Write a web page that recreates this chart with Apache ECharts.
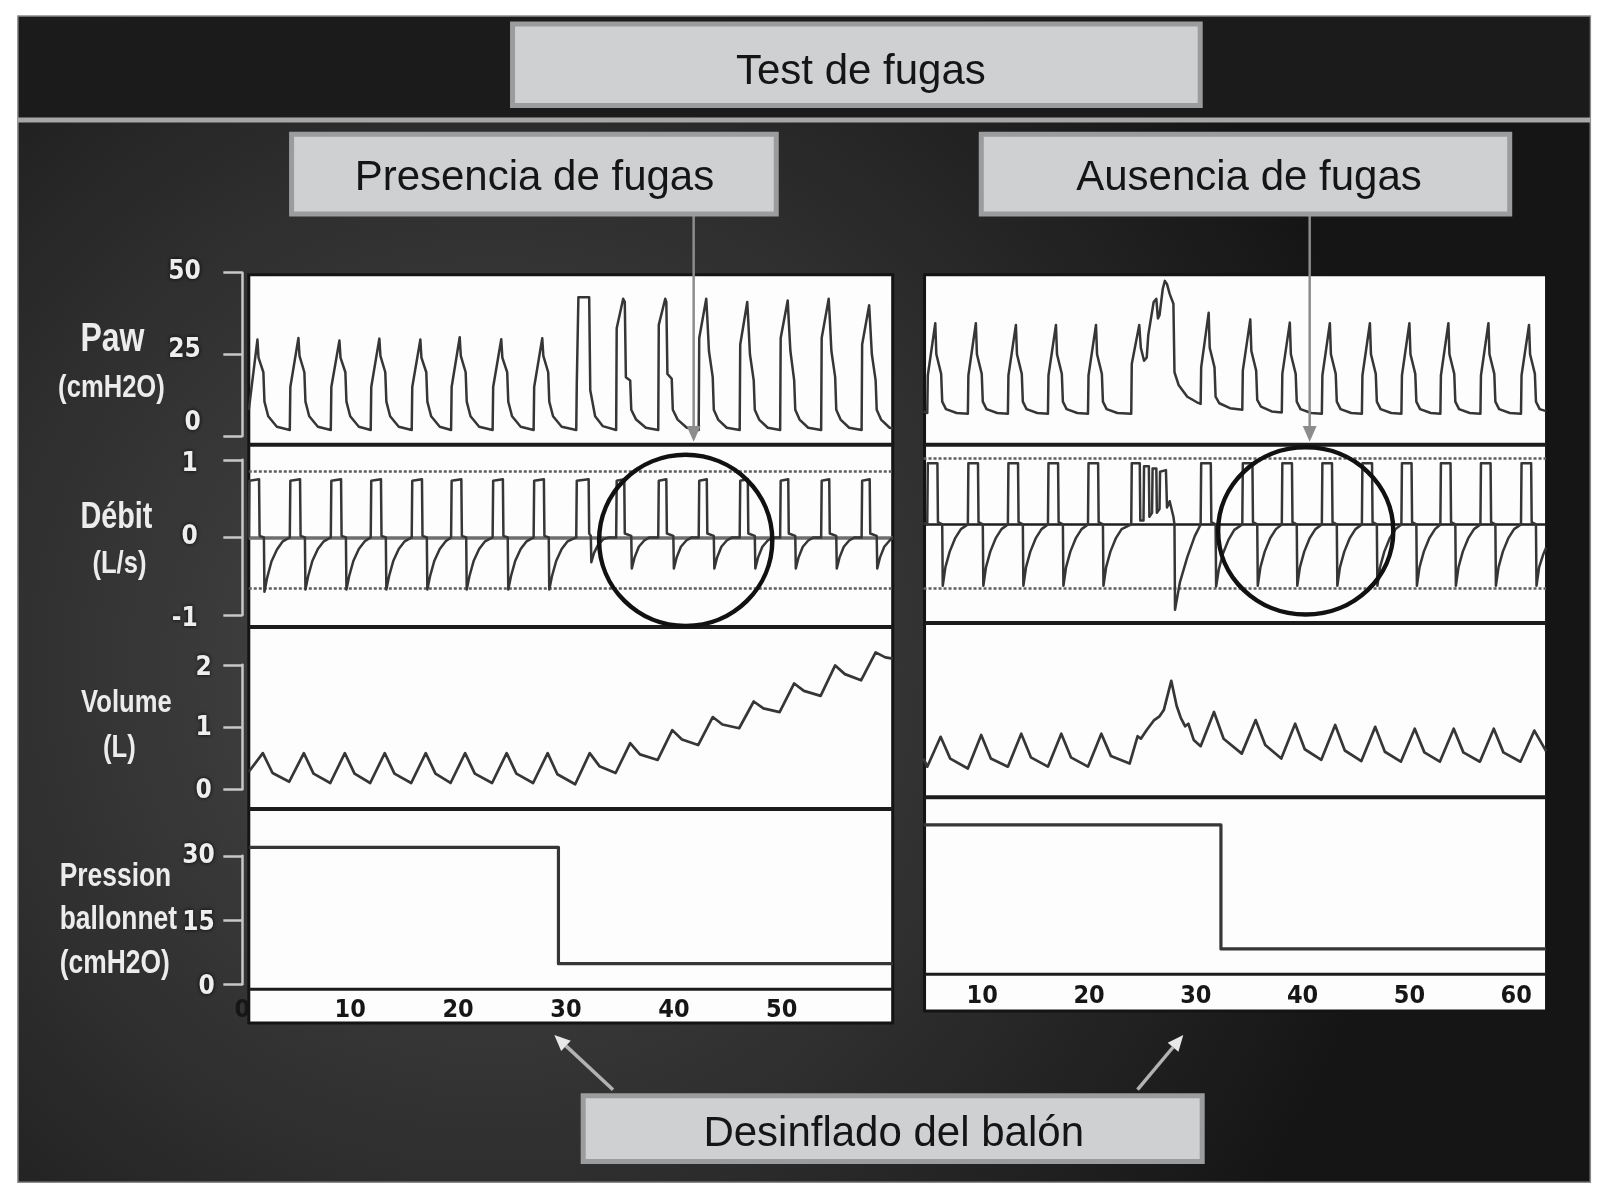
<!DOCTYPE html>
<html><head><meta charset="utf-8">
<script src="https://cdn.jsdelivr.net/npm/echarts@6/dist/echarts.min.js"></script>
<style>html,body{margin:0;padding:0;background:#ffffff}#c{width:1616px;height:1204px}</style>
</head><body><div id="c"></div>
<script>
// ---------- text ----------
const titleMain = 'Test de fugas';
const titleLeft = 'Presencia de fugas';
const titleRight = 'Ausencia de fugas';
const titleBottom = 'Desinflado del balón';

// ---------- axis ticks ----------
const pawTicks = [0, 25, 50];
const flowTicks = [-1, 0, 1];
const volTicks = [0, 1, 2];
const cuffTicks = [0, 15, 30];
const timeTicks = [0, 10, 20, 30, 40, 50, 60];
const leftSpan = [0.6, 60.3];
const rightSpan = [4.5, 62.8];
const leftFlowLimits = [0.85, -0.66];
const rightFlowLimits = [0.855, -0.82];

// ---------- LEFT (presencia de fugas) ----------
const leftPaw = [
[0.6,8],[1.4,29.5],[1.5,24],[1.95,19.5],[2.05,10.5],[2.4,6],[3.2,2.8],
[4.4,1.8],[4.45,15],[5.2,30],[5.3,24.5],[5.75,19.5],[5.85,10.5],[6.2,6],[7.0,2.8],
[8.2,1.8],[8.25,15],[9.0,29.2],[9.1,24],[9.55,19.5],[9.65,10.5],[10.0,6],[10.8,2.8],
[11.9,1.8],[11.95,15],[12.7,29.8],[12.8,24.5],[13.25,19.5],[13.35,10.5],[13.7,6],[14.5,2.8],
[15.7,1.8],[15.75,15],[16.5,29.5],[16.6,24],[17.05,19.5],[17.15,10.5],[17.5,6],[18.3,2.8],
[19.35,1.8],[19.4,15],[20.15,30.2],[20.25,24.5],[20.7,19.5],[20.8,10.5],[21.15,6],[21.95,2.8],
[23.2,1.8],[23.25,15],[24.0,29.6],[24.1,24],[24.55,19.5],[24.65,10.5],[25.0,6],[25.8,2.8],
[27.0,1.8],[27.05,15],[27.8,29.9],[27.9,24.5],[28.35,19.5],[28.45,10.5],[28.8,6],[29.6,2.8],
[30.95,1.8],[31.0,16],[31.15,42.5],[32.15,42.5],[32.25,14],[32.7,6],[33.4,3],
[34.65,1.8],[34.7,33],[35.3,42],[35.45,41],[35.55,18],[35.95,17],[36.05,8],[36.5,5],[37.4,2.5],
[38.55,1.8],[38.6,34],[39.2,42],[39.3,41],[39.4,19],[39.8,17.5],[39.9,8],[40.35,5],[41.2,2.5],
[42.3,1.8],[42.35,30],[43.0,42],[43.1,36],[43.25,26],[43.6,18],[43.7,8],[44.1,5],[44.9,2.5],
[46.1,1.8],[46.15,28],[46.8,41],[46.9,35],[47.05,25],[47.4,17],[47.5,8],[47.9,5],[48.7,2.5],
[49.85,1.8],[49.9,30],[50.55,41.5],[50.65,35],[50.8,26],[51.15,17],[51.25,8],[51.65,5],[52.45,2.5],
[53.65,1.8],[53.7,30],[54.35,42],[54.45,36],[54.6,26],[54.95,18],[55.05,8],[55.45,5],[56.25,2.5],
[57.4,1.8],[57.45,28],[58.1,40],[58.2,34],[58.35,25],[58.7,17],[58.8,8],[59.2,5],[60.0,2.5],[60.3,2.3]
];
const leftFlow = [
[0.6,0],[0.65,0.73],[1.55,0.75],[1.6,0.02],[2.0,0],[2.05,-0.7],[2.3,-0.52],[2.7,-0.31],[3.2,-0.16],[3.75,-0.05],
[4.4,0],[4.45,0.73],[5.35,0.75],[5.4,0.02],[5.8,0],[5.85,-0.67],[6.1,-0.5],[6.5,-0.3],[7.0,-0.15],[7.55,-0.05],
[8.2,0],[8.25,0.73],[9.15,0.75],[9.2,0.02],[9.6,0],[9.65,-0.67],[9.9,-0.5],[10.3,-0.3],[10.8,-0.15],[11.35,-0.05],
[11.9,0],[11.95,0.73],[12.85,0.75],[12.9,0.02],[13.3,0],[13.35,-0.67],[13.6,-0.5],[14.0,-0.3],[14.5,-0.15],[15.05,-0.05],
[15.7,0],[15.75,0.73],[16.65,0.75],[16.7,0.02],[17.1,0],[17.15,-0.67],[17.4,-0.5],[17.8,-0.3],[18.3,-0.15],[18.85,-0.05],
[19.35,0],[19.4,0.73],[20.3,0.75],[20.35,0.02],[20.75,0],[20.8,-0.67],[21.05,-0.5],[21.45,-0.3],[21.95,-0.15],[22.5,-0.05],
[23.2,0],[23.25,0.73],[24.15,0.75],[24.2,0.02],[24.6,0],[24.65,-0.67],[24.9,-0.5],[25.3,-0.3],[25.8,-0.15],[26.35,-0.05],
[27.0,0],[27.05,0.73],[27.95,0.75],[28.0,0.02],[28.4,0],[28.45,-0.67],[28.7,-0.5],[29.1,-0.3],[29.6,-0.15],[30.15,-0.05],
[30.95,0],[31.0,0.73],[32.1,0.75],[32.15,0.05],[32.3,0.02],[32.35,-0.32],[32.6,-0.2],[33.0,-0.09],[33.5,-0.02],[34.0,0],
[34.65,0],[34.7,0.73],[35.4,0.75],[35.45,0.05],[36.05,0.02],[36.1,-0.4],[36.35,-0.26],[36.75,-0.12],[37.25,-0.04],[37.75,0],
[38.55,0],[38.6,0.73],[39.3,0.75],[39.35,0.05],[39.95,0.02],[40.0,-0.4],[40.25,-0.26],[40.65,-0.12],[41.15,-0.04],[41.65,0],
[42.3,0],[42.35,0.73],[43.05,0.75],[43.1,0.05],[43.7,0.02],[43.75,-0.4],[44.0,-0.26],[44.4,-0.12],[44.9,-0.04],[45.4,0],
[46.1,0],[46.15,0.73],[46.85,0.75],[46.9,0.05],[47.5,0.02],[47.55,-0.4],[47.8,-0.26],[48.2,-0.12],[48.7,-0.04],[49.2,0],
[49.85,0],[49.9,0.73],[50.6,0.75],[50.65,0.05],[51.25,0.02],[51.3,-0.4],[51.55,-0.26],[51.95,-0.12],[52.45,-0.04],[52.95,0],
[53.65,0],[53.7,0.73],[54.4,0.75],[54.45,0.05],[55.05,0.02],[55.1,-0.4],[55.35,-0.26],[55.75,-0.12],[56.25,-0.04],[56.75,0],
[57.4,0],[57.45,0.73],[58.15,0.75],[58.2,0.05],[58.8,0.02],[58.85,-0.4],[59.1,-0.26],[59.5,-0.12],[60.0,-0.04],[60.3,0]
];
const leftVolume = [
[0.6,0.28],[1.9,0.58],[2.8,0.26],[4.35,0.12],
[5.7,0.58],[6.6,0.25],[8.15,0.1],
[9.5,0.58],[10.4,0.25],[11.85,0.1],
[13.2,0.58],[14.1,0.25],[15.65,0.1],
[17.0,0.58],[17.9,0.25],[19.3,0.1],
[20.65,0.58],[21.55,0.25],[23.15,0.1],
[24.5,0.58],[25.4,0.25],[26.95,0.1],
[28.3,0.58],[29.2,0.24],[30.85,0.08],
[32.2,0.58],[33.1,0.37],[34.6,0.26],
[35.95,0.74],[36.85,0.56],[38.5,0.47],
[39.85,0.95],[40.75,0.8],[42.25,0.71],
[43.6,1.16],[44.5,1.04],[46.05,0.98],
[47.4,1.41],[48.3,1.3],[49.8,1.24],
[51.15,1.7],[52.05,1.58],[53.6,1.5],
[54.95,1.99],[55.85,1.85],[57.35,1.75],
[58.7,2.2],[59.6,2.12],[60.3,2.1]
];
const leftCuff = [[0.6,32],[29.3,32],[29.3,4.8],[60.3,4.8]];

// ---------- RIGHT (ausencia de fugas) ----------
const rightPaw = [
[4.5,7.5],[4.85,7],[4.9,18.5],[5.6,34.5],[5.7,25],[6.15,19],[6.25,10.5],[6.6,8.2],[7.6,7],
[8.65,6.8],[8.7,18.5],[9.4,34.5],[9.5,25],[9.95,19],[10.05,10.5],[10.4,8.2],[11.4,7],
[12.4,6.8],[12.45,18.5],[13.15,34],[13.25,25],[13.7,19],[13.8,10.5],[14.15,8.2],[15.15,7],
[16.15,6.8],[16.2,18.5],[16.9,34],[17.0,25],[17.45,19],[17.55,10.5],[17.9,8.2],[18.9,7],
[19.9,6.8],[19.95,18.5],[20.65,34],[20.75,25],[21.2,19],[21.3,10.5],[21.65,8.2],[22.65,7],
[23.95,6.8],[24.0,22],[24.7,34],[24.85,27],[25.15,23],[25.4,24],[25.55,31],[26.05,41],[26.3,42],[26.45,36],[26.6,37],[26.9,45],[27.1,47.5],[27.3,46.5],[27.55,43.5],[27.9,40.5],[28.0,19.5],[28.4,15.5],[29.2,12],[30.1,10.3],[30.45,9.8],
[30.5,21],[31.2,37.7],[31.3,27],[31.75,21],[31.85,12],[32.2,10],[33.2,8.5],
[34.35,8],[34.4,20],[35.1,35.7],[35.2,26],[35.65,20],[35.75,11],[36.1,9],[37.1,7.5],
[38.05,7.2],[38.1,19],[38.8,34.7],[38.9,25],[39.35,19],[39.45,10.5],[39.8,8.2],[40.8,7],
[41.8,6.8],[41.85,18.5],[42.55,34.5],[42.65,25],[43.1,19],[43.2,10.5],[43.55,8.2],[44.55,7],
[45.55,6.8],[45.6,18.5],[46.3,34.5],[46.4,25],[46.85,19],[46.95,10.5],[47.3,8.2],[48.3,7],
[49.25,6.8],[49.3,18.5],[50.0,34.5],[50.1,25],[50.55,19],[50.65,10.5],[51.0,8.2],[52.0,7],
[52.9,6.8],[52.95,18.5],[53.65,34.5],[53.75,25],[54.2,19],[54.3,10.5],[54.65,8.2],[55.65,7],
[56.65,6.8],[56.7,18.5],[57.4,34.5],[57.5,25],[57.95,19],[58.05,10.5],[58.4,8.2],[59.4,7],
[60.45,6.8],[60.5,18.5],[61.2,34],[61.3,25],[61.75,19],[61.85,10.5],[62.2,8.2],[62.8,7.6]
];
const rightFlow = [
[4.5,0.02],[4.85,0],[4.9,0.79],[5.8,0.79],[5.85,0.03],[6.25,0],[6.3,-0.79],[6.55,-0.55],[6.95,-0.35],[7.45,-0.18],[8.0,-0.06],
[8.65,0],[8.7,0.79],[9.6,0.79],[9.65,0.03],[10.05,0],[10.1,-0.79],[10.35,-0.55],[10.75,-0.35],[11.25,-0.18],[11.8,-0.06],
[12.4,0],[12.45,0.79],[13.35,0.79],[13.4,0.03],[13.8,0],[13.85,-0.79],[14.1,-0.55],[14.5,-0.35],[15.0,-0.18],[15.55,-0.06],
[16.15,0],[16.2,0.79],[17.1,0.79],[17.15,0.03],[17.55,0],[17.6,-0.79],[17.85,-0.55],[18.25,-0.35],[18.75,-0.18],[19.3,-0.06],
[19.9,0],[19.95,0.79],[20.85,0.79],[20.9,0.03],[21.3,0],[21.35,-0.79],[21.6,-0.55],[22.0,-0.35],[22.5,-0.18],[23.05,-0.06],
[23.95,0],[24.0,0.79],[24.75,0.79],[24.8,0.05],[25.1,0.05],[25.15,0.75],[25.6,0.75],[25.65,0.1],[25.9,0.15],[25.95,0.72],[26.3,0.72],[26.35,0.15],[26.6,0.2],[26.65,0.68],[27.2,0.7],[27.3,0.22],[27.55,0.3],[27.9,0.1],[28.0,0],[28.05,-1.1],[28.5,-0.75],[29.2,-0.42],[29.9,-0.15],[30.45,0],
[30.5,0.79],[31.4,0.79],[31.45,0.03],[31.85,0],[31.9,-0.8],[32.15,-0.58],[32.55,-0.37],[33.05,-0.2],[33.6,-0.07],
[34.35,0],[34.4,0.79],[35.3,0.79],[35.35,0.03],[35.75,0],[35.8,-0.79],[36.05,-0.55],[36.45,-0.35],[36.95,-0.18],[37.5,-0.06],
[38.05,0],[38.1,0.79],[39.0,0.79],[39.05,0.03],[39.45,0],[39.5,-0.79],[39.75,-0.55],[40.15,-0.35],[40.65,-0.18],[41.2,-0.06],
[41.8,0],[41.85,0.79],[42.75,0.79],[42.8,0.03],[43.2,0],[43.25,-0.79],[43.5,-0.55],[43.9,-0.35],[44.4,-0.18],[44.95,-0.06],
[45.55,0],[45.6,0.79],[46.5,0.79],[46.55,0.03],[46.95,0],[47.0,-0.79],[47.25,-0.55],[47.65,-0.35],[48.15,-0.18],[48.7,-0.06],
[49.25,0],[49.3,0.79],[50.2,0.79],[50.25,0.03],[50.65,0],[50.7,-0.79],[50.95,-0.55],[51.35,-0.35],[51.85,-0.18],[52.4,-0.06],
[52.9,0],[52.95,0.79],[53.85,0.79],[53.9,0.03],[54.3,0],[54.35,-0.79],[54.6,-0.55],[55.0,-0.35],[55.5,-0.18],[56.05,-0.06],
[56.65,0],[56.7,0.79],[57.6,0.79],[57.65,0.03],[58.05,0],[58.1,-0.79],[58.35,-0.55],[58.75,-0.35],[59.25,-0.18],[59.8,-0.06],
[60.45,0],[60.5,0.79],[61.4,0.79],[61.45,0.03],[61.85,0],[61.9,-0.79],[62.15,-0.55],[62.55,-0.38],[62.8,-0.3]
];
const rightVolume = [
[4.5,0.3],[4.85,0.17],[6.1,0.65],[7.0,0.3],
[8.65,0.14],[9.9,0.68],[10.8,0.3],
[12.4,0.17],[13.65,0.7],[14.55,0.32],
[16.15,0.17],[17.4,0.7],[18.3,0.32],
[19.9,0.17],[21.15,0.7],[22.05,0.34],
[23.8,0.22],[24.55,0.66],[24.85,0.62],[25.4,0.76],[26.1,0.92],[26.6,0.98],[27.0,1.08],[27.7,1.55],[28.2,1.15],[28.6,0.95],[29.0,0.82],[29.3,0.86],[29.8,0.6],[30.45,0.5],
[31.7,1.05],[32.6,0.62],[34.3,0.38],
[35.6,0.92],[36.5,0.52],[38.0,0.3],
[39.3,0.86],[40.2,0.45],[41.75,0.28],
[43.05,0.84],[43.95,0.43],[45.5,0.26],
[46.8,0.81],[47.7,0.41],[49.2,0.25],
[50.5,0.78],[51.4,0.4],[52.85,0.25],
[54.15,0.78],[55.05,0.4],[56.6,0.25],
[57.9,0.78],[58.8,0.4],[60.4,0.25],
[61.7,0.75],[62.8,0.42]
];
const rightCuff = [[4.5,34],[32.35,34],[32.35,5],[62.8,5]];

// ---------- row labels ----------
const rowLabels = [['Paw','(cmH2O)'], ['Débit','(L/s)'], ['Volume','(L)'], ['Pression','ballonnet','(cmH2O)']];

// ================= chart =================
const NARROW = '"Liberation Sans Narrow","Arial Narrow","DejaVu Sans Condensed",Roboto,sans-serif';
const SANS = '"Liberation Sans",Arial,Helvetica,sans-serif';
const K = 0.9952; // global layout scale
const chart = echarts.init(document.getElementById('c'), null, {renderer: 'canvas'});

// layout (pixels, before K)
const LX = {left: 243.5, width: 653.7};
const RX = {left: 879.7, width: 676};
const leftRows = [[274,164],[462,156],[668,125],[860,129]];
const rightRows = [[274,164],[425.6,202.8],[656,125],[846,129]];
const tickSets = [pawTicks, flowTicks, volTicks, cuffTicks];
const labelMargins = [38, 41, 27, 24];
const labelShift = [{0: -13, 25: -4}, {1: 4, '-1': 4}, {2: 3, 1: 1, 0: 2}, {15: 3, 0: 3}];

const grids = [];
leftRows.forEach(r => grids.push({left: LX.left * K, width: LX.width * K, top: r[0] * K, height: r[1] * K}));
rightRows.forEach(r => grids.push({left: RX.left * K, width: RX.width * K, top: r[0] * K, height: r[1] * K}));

const xAxes = [];
for (let i = 0; i < 8; i++) {
  const right = i >= 4;
  const bottom = (i === 3 || i === 7);
  xAxes.push({
    gridIndex: i, type: 'value', min: timeTicks[0],
    max: right ? 63 : leftSpan[1],
    interval: timeTicks[1] - timeTicks[0],
    show: bottom,
    axisLine: {show: false}, axisTick: {show: false}, splitLine: {show: false},
    axisLabel: {
      show: bottom, margin: 14, color: '#161616',
      fontFamily: NARROW, fontWeight: 'bold', fontSize: 25,
      formatter: v => {
        if (timeTicks.indexOf(v) < 0) return '';
        if (right) return (v >= 10 && v <= 60) ? String(v) : '';
        return v <= 50 ? String(v) : '';
      }
    }
  });
}
const tickFont = {color: '#eeeeee', fontFamily: NARROW, fontWeight: 'bold', fontSize: 26,
  textShadowColor: 'rgba(0,0,0,0.9)', textShadowBlur: 4};
const yAxes = [];
for (let i = 0; i < 8; i++) {
  const k = i % 4;
  const t = tickSets[k];
  const right = i >= 4;
  let min = t[0], max = t[t.length - 1];
  if (right && k === 1) { min = -1.3; max = 1.3; }
  const shifts = labelShift[k];
  const rich = {};
  Object.keys(shifts).forEach(key => {
    const s = shifts[key];
    rich[(s < 0 ? 'm' : 'p') + Math.abs(s)] = Object.assign(
      {padding: s < 0 ? [0, 0, -2 * s, 0] : [2 * s, 0, 0, 0]}, tickFont);
  });
  const label = Object.assign({margin: labelMargins[k], rich: rich,
    formatter: v => {
      const s = shifts[String(v)];
      return s ? '{' + (s < 0 ? 'm' : 'p') + Math.abs(s) + '|' + v + '}' : String(v);
    }}, tickFont);
  yAxes.push({
    gridIndex: i, type: 'value', min: min, max: max, interval: t[1] - t[0],
    show: !right, offset: 3.5,
    splitLine: {show: false},
    axisLine: {show: true, lineStyle: {color: '#c8c8c8', width: 2.5}},
    axisTick: {show: true, length: 19, lineStyle: {color: '#c8c8c8', width: 2.5}},
    axisLabel: label
  });
}

function wave(data, idx, width) {
  return {
    type: 'line', data: data, xAxisIndex: idx, yAxisIndex: idx,
    showSymbol: false, symbol: 'none', clip: false, animation: false, silent: true, z: 5,
    lineStyle: {color: '#363636', width: width || 2.5, join: 'round'}
  };
}
function flowMarks(span, limits, zeroColor, zeroWidth) {
  return {
    silent: true, symbol: ['none', 'none'], label: {show: false}, animation: false,
    data: [
      [{coord: [span[0], 0], lineStyle: {color: zeroColor, width: zeroWidth, type: 'solid'}}, {coord: [span[1], 0]}],
      [{coord: [span[0], limits[0]], lineStyle: {color: '#5e5e5e', width: 2.5, type: [3, 2]}}, {coord: [span[1], limits[0]]}],
      [{coord: [span[0], limits[1]], lineStyle: {color: '#5e5e5e', width: 2.5, type: [3, 2]}}, {coord: [span[1], limits[1]]}]
    ]
  };
}
const sLeftFlow = wave(leftFlow, 1); sLeftFlow.markLine = flowMarks(leftSpan, leftFlowLimits, '#6e6e6e', 3.5);
const sRightFlow = wave(rightFlow, 5); sRightFlow.markLine = flowMarks(rightSpan, rightFlowLimits, '#1e1e1e', 2.5);
const series = [
  wave(leftPaw, 0), sLeftFlow, wave(leftVolume, 2, 2.7), wave(leftCuff, 3, 3.2),
  wave(rightPaw, 4), sRightFlow, wave(rightVolume, 6, 2.7), wave(rightCuff, 7, 3.2)
];

// ---------- decorations ----------
const G = [];
G.push({type: 'rect', z: -100, shape: {x: 18, y: 16, width: 1580, height: 1172},
  style: {fill: new echarts.graphic.RadialGradient(0.3, 0.56, 0.8, [
    {offset: 0, color: '#494949'}, {offset: 0.55, color: '#2e2e2e'}, {offset: 1, color: '#151515'}]),
    stroke: '#8a8a8a', lineWidth: 1.5}});
G.push({type: 'rect', z: -99, shape: {x: 19, y: 17, width: 1578, height: 101}, style: {fill: '#1b1b1b'}});
G.push({type: 'rect', z: -98, shape: {x: 18, y: 118, width: 1580, height: 5}, style: {fill: '#a7a7a7'}});
// white panels
G.push({type: 'rect', z: -90, shape: {x: 250, y: 276, width: 647, height: 752}, style: {fill: '#fdfdfd', stroke: '#141414', lineWidth: 3}});
G.push({type: 'rect', z: -90, shape: {x: 929, y: 276, width: 625, height: 740}, style: {fill: '#fdfdfd', stroke: '#141414', lineWidth: 3}});
[[447,4],[630,4],[813,4],[994,3]].forEach(b => G.push({type: 'line', z: -80,
  shape: {x1: 250, y1: b[0], x2: 897, y2: b[0]}, style: {stroke: '#1c1c1c', lineWidth: b[1]}}));
[[447,4],[626,4],[801,4],[979,3]].forEach(b => G.push({type: 'line', z: -80,
  shape: {x1: 929, y1: b[0], x2: 1554, y2: b[0]}, style: {stroke: '#1c1c1c', lineWidth: b[1]}}));
// row labels (narrowed bold sans)
const lab = (text, x, y, size, align) => G.push({type: 'text', z: 10, x: x, y: y, scaleX: 0.8,
  style: {text: text, x: 0, y: 0, fill: '#ececec', align: align || 'center', verticalAlign: 'middle',
    font: 'bold ' + size + 'px ' + SANS, shadowColor: 'rgba(0,0,0,0.9)', shadowBlur: 4}});
lab(rowLabels[0][0], 113, 342, 40); lab(rowLabels[0][1], 112, 390, 32);
lab(rowLabels[1][0], 117, 521, 36); lab(rowLabels[1][1], 120, 567, 32);
lab(rowLabels[2][0], 127, 707, 32); lab(rowLabels[2][1], 120, 752, 32);
lab(rowLabels[3][0], 60, 881, 33, 'left'); lab(rowLabels[3][1], 60, 924, 33, 'left'); lab(rowLabels[3][2], 60, 969, 33, 'left');
// circles
G.push({type: 'ellipse', z: 50, shape: {cx: 689, cy: 543, rx: 87, ry: 86}, style: {fill: 'none', stroke: '#111', lineWidth: 4.5}});
G.push({type: 'ellipse', z: 50, shape: {cx: 1312, cy: 533.5, rx: 88, ry: 84}, style: {fill: 'none', stroke: '#111', lineWidth: 4.5}});
// vertical arrows
[697, 1316].forEach(x => {
  G.push({type: 'line', z: 50, shape: {x1: x, y1: 216, x2: x, y2: 430}, style: {stroke: '#8c8c8c', lineWidth: 2.5}});
  G.push({type: 'polygon', z: 50, shape: {points: [[x - 7, 428], [x + 7, 428], [x, 444]]}, style: {fill: '#8c8c8c'}});
});
// diagonal arrows
G.push({type: 'line', z: 50, shape: {x1: 616, y1: 1095, x2: 568.7, y2: 1050.9}, style: {stroke: '#b2b2b2', lineWidth: 3.5}});
G.push({type: 'polygon', z: 50, shape: {points: [[557, 1040], [573.5, 1045.8], [563.9, 1056.0]]}, style: {fill: '#e8e8e8'}});
G.push({type: 'line', z: 50, shape: {x1: 1143, y1: 1095, x2: 1178.7, y2: 1052.3}, style: {stroke: '#b2b2b2', lineWidth: 3.5}});
G.push({type: 'polygon', z: 50, shape: {points: [[1189, 1040], [1184.1, 1056.8], [1173.3, 1047.8]]}, style: {fill: '#e8e8e8'}});
// boxes
const box = (x, y, w, h, text, tx, ty) => {
  G.push({type: 'rect', z: 60, shape: {x: x, y: y, width: w, height: h}, style: {fill: '#cfd0d2', stroke: '#9b9c9e', lineWidth: 5}});
  G.push({type: 'text', z: 61, style: {text: text, x: tx, y: ty, fill: '#151515', align: 'center', verticalAlign: 'middle', font: '42px ' + SANS}});
};
box(515, 24, 691, 82, titleMain, 865, 73);
box(293, 135, 487, 80, titleLeft, 537, 179);
box(986, 135, 531, 80, titleRight, 1255, 179);
box(586, 1101, 622, 66, titleBottom, 898, 1140);

// apply global layout scale to decorations
const SK = ['x','y','width','height','x1','y1','x2','y2','cx','cy','rx','ry'];
G.forEach(e => {
  if (e.shape) {
    SK.forEach(k => { if (typeof e.shape[k] === 'number') e.shape[k] *= K; });
    if (e.shape.points) e.shape.points = e.shape.points.map(p => [p[0] * K, p[1] * K]);
  }
  if (typeof e.x === 'number') e.x *= K;
  if (typeof e.y === 'number') e.y *= K;
  if (e.type === 'text' && e.style && typeof e.x !== 'number') { e.style.x *= K; e.style.y *= K; }
});

chart.setOption({
  animation: false,
  backgroundColor: '#ffffff',
  grid: grids, xAxis: xAxes, yAxis: yAxes, series: series,
  graphic: {elements: G}
});
</script></body></html>
